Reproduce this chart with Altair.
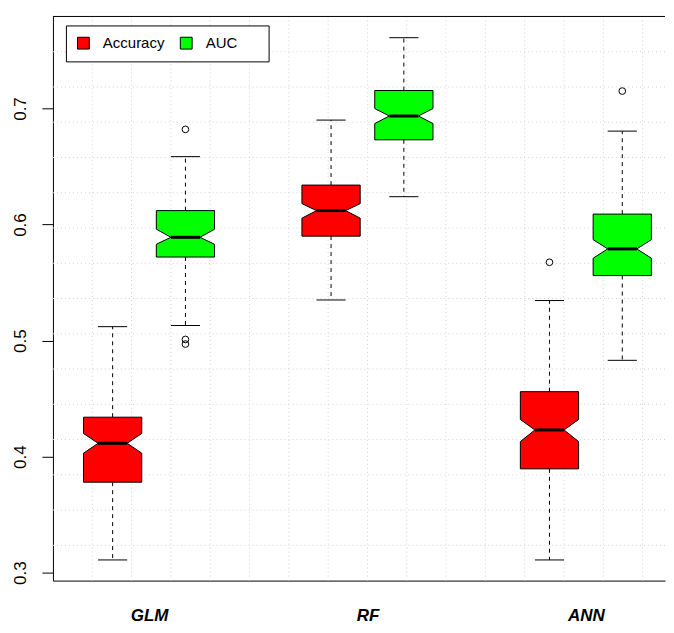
import altair as alt
import numpy as np
import pandas as pd

# ---------------- data ----------------
groups = ["GLM", "RF", "ANN"]
group_centers = [1.5, 4.5, 7.5]
metrics = ["Accuracy", "AUC"]
metric_colors = ["#FF0000", "#00FF00"]

box_pos = [1, 2, 4, 5, 7, 8]
box_metric = ["Accuracy", "AUC", "Accuracy", "AUC", "Accuracy", "AUC"]
whisker_low = [0.311, 0.513, 0.535, 0.624, 0.311, 0.483]
q1 = [0.378, 0.572, 0.590, 0.673, 0.3895, 0.556]
notch_low = [0.403, 0.583, 0.6055, 0.687, 0.413, 0.571]
median = [0.4115, 0.589, 0.612, 0.6935, 0.423, 0.579]
notch_high = [0.420, 0.596, 0.618, 0.700, 0.432, 0.587]
q3 = [0.434, 0.612, 0.634, 0.7155, 0.456, 0.609]
whisker_high = [0.512, 0.6585, 0.690, 0.761, 0.5345, 0.6805]

outlier_pos = [2, 2, 2, 7, 8]
outlier_val = [0.682, 0.501, 0.497, 0.5675, 0.715]

y_ticks = [0.3, 0.4, 0.5, 0.6, 0.7]

# ---------------- layout constants ----------------
W, H = 613, 565
PX_PER_UNIT = 630 / 8.64          # full R region is 0.18..8.82; picture is cropped at the right
X_DOMAIN = [0.18, 0.18 + W / PX_PER_UNIT]
Y_DOMAIN = [0.2932, 0.7793]
BOX_HALF = 0.4
NOTCH_HALF = 0.2
STAPLE_HALF = 0.2
FONT = "Liberation Sans"
# trailing blank room after the last legend label (R draws a wider legend box)
LEGEND_TAIL = "\u00a0" * 5 + "\u200b"

xs = alt.Scale(domain=X_DOMAIN, nice=False, zero=False)
ys = alt.Scale(domain=Y_DOMAIN, nice=False, zero=False)
fill_scale = alt.Scale(domain=metrics, range=metric_colors)

# ---------------- derived tables ----------------
poly_rows = []
for i in range(len(box_pos)):
    p = box_pos[i]
    for lvl, half in [(q1[i], BOX_HALF), (notch_low[i], BOX_HALF), (median[i], NOTCH_HALF),
                      (notch_high[i], BOX_HALF), (q3[i], BOX_HALF)]:
        poly_rows.append({"box": i, "metric": box_metric[i], "y": lvl, "xl": p - half, "xr": p + half})
poly = pd.DataFrame(poly_rows)

whisk = pd.DataFrame({
    "pos": box_pos * 2,
    "a": q3 + q1,
    "b": whisker_high + whisker_low,
})
staple = pd.DataFrame({
    "xl": [p - STAPLE_HALF for p in box_pos] * 2,
    "xr": [p + STAPLE_HALF for p in box_pos] * 2,
    "v": whisker_high + whisker_low,
})
med = pd.DataFrame({
    "xl": [p - NOTCH_HALF for p in box_pos],
    "xr": [p + NOTCH_HALF for p in box_pos],
    "v": median,
})
outl = pd.DataFrame({"pos": outlier_pos, "v": outlier_val})

# R grid(): equal divisions of the full plotting region (16 each way)
step_x = 8.64 / 16
vgrid = pd.DataFrame({"x": [X_DOMAIN[0] + step_x * k for k in range(1, 16)
                            if X_DOMAIN[0] + step_x * k < X_DOMAIN[1]]})
hgrid = pd.DataFrame({"y": list(np.linspace(Y_DOMAIN[0], Y_DOMAIN[1], 17)[1:-1])})

label_expr = " : ".join(
    [f"datum.value == {c} ? '{g}'" for c, g in zip(group_centers[:-1], groups[:-1])]
) + f" : '{groups[-1]}'"
legend_expr = f"datum.label == '{metrics[-1]}' ? datum.label + '{LEGEND_TAIL}' : datum.label"

x_axis = alt.Axis(values=group_centers, labelExpr=label_expr, ticks=False, tickSize=0, grid=False,
                  domain=True, domainColor="black", domainWidth=1, labelPadding=27,
                  labelBaseline="top",
                  labelFont=FONT, labelFontSize=17, labelFontWeight="bold", labelFontStyle="italic",
                  labelColor="black", title=None)
y_axis = alt.Axis(values=y_ticks, format=".1f", grid=False, domain=True, domainColor="black",
                  tickColor="black", tickSize=11, labelAngle=270, labelAlign="center",
                  labelBaseline="alphabetic", labelPadding=16, labelFont=FONT, labelFontSize=17,
                  labelColor="black", title=None, minExtent=45, maxExtent=45)


def X(field):
    return alt.X(field, scale=xs, axis=x_axis)


def Y(field):
    return alt.Y(field, scale=ys, axis=y_axis)


grid_style = dict(color="#d3d3d3", strokeDash=[1, 3], strokeWidth=1)

vg = alt.Chart(vgrid).mark_rule(**grid_style).encode(x=X("x:Q"))
hg = alt.Chart(hgrid).mark_rule(**grid_style).encode(y=Y("y:Q"))

whiskers = alt.Chart(whisk).mark_rule(color="black", strokeDash=[4, 4], strokeWidth=1).encode(
    x=X("pos:Q"), y=Y("a:Q"), y2="b:Q",
)
staples = alt.Chart(staple).mark_rule(color="black", strokeWidth=1).encode(
    x=X("xl:Q"), x2="xr:Q", y=Y("v:Q"),
)
boxes = alt.Chart(poly).mark_area(orient="horizontal", stroke="black", strokeWidth=1,
                                  opacity=1, interpolate="linear").encode(
    y=Y("y:Q"),
    x=alt.X("xl:Q", scale=xs, axis=x_axis, stack=None),
    x2="xr:Q",
    fill=alt.Fill("metric:N", scale=fill_scale, sort=metrics,
                  legend=alt.Legend(orient="none", legendX=13, legendY=9, direction="horizontal",
                                    title=None, symbolType="square", symbolSize=140,
                                    symbolStrokeColor="black", symbolStrokeWidth=1,
                                    labelFont=FONT, labelFontSize=15, labelColor="black",
                                    labelExpr=legend_expr, gridAlign="all",
                                    strokeColor="black", fillColor="white", padding=10,
                                    columnPadding=13, labelOffset=12, cornerRadius=0)),
    detail="box:N",
)
medians = alt.Chart(med).mark_rule(color="black", strokeWidth=3).encode(
    x=X("xl:Q"), x2="xr:Q", y=Y("v:Q"),
)
outliers = alt.Chart(outl).mark_point(shape="circle", filled=False, color="black",
                                      size=45, strokeWidth=1, opacity=1).encode(
    x=X("pos:Q"), y=Y("v:Q"),
)
top_border = alt.Chart(pd.DataFrame({"d": [0]})).mark_rule(color="black", strokeWidth=1).encode(
    y=alt.value(0), x=alt.value(0), x2=alt.value(W)
)

chart = alt.layer(vg, hg, whiskers, staples, boxes, medians, outliers, top_border).properties(
    width=W, height=H,
    padding={"left": 0, "top": 7, "right": 0, "bottom": 0},
    background="white",
).configure_view(stroke=None)

chart.save("out.html", embed_options={"renderer": "svg", "actions": False})
